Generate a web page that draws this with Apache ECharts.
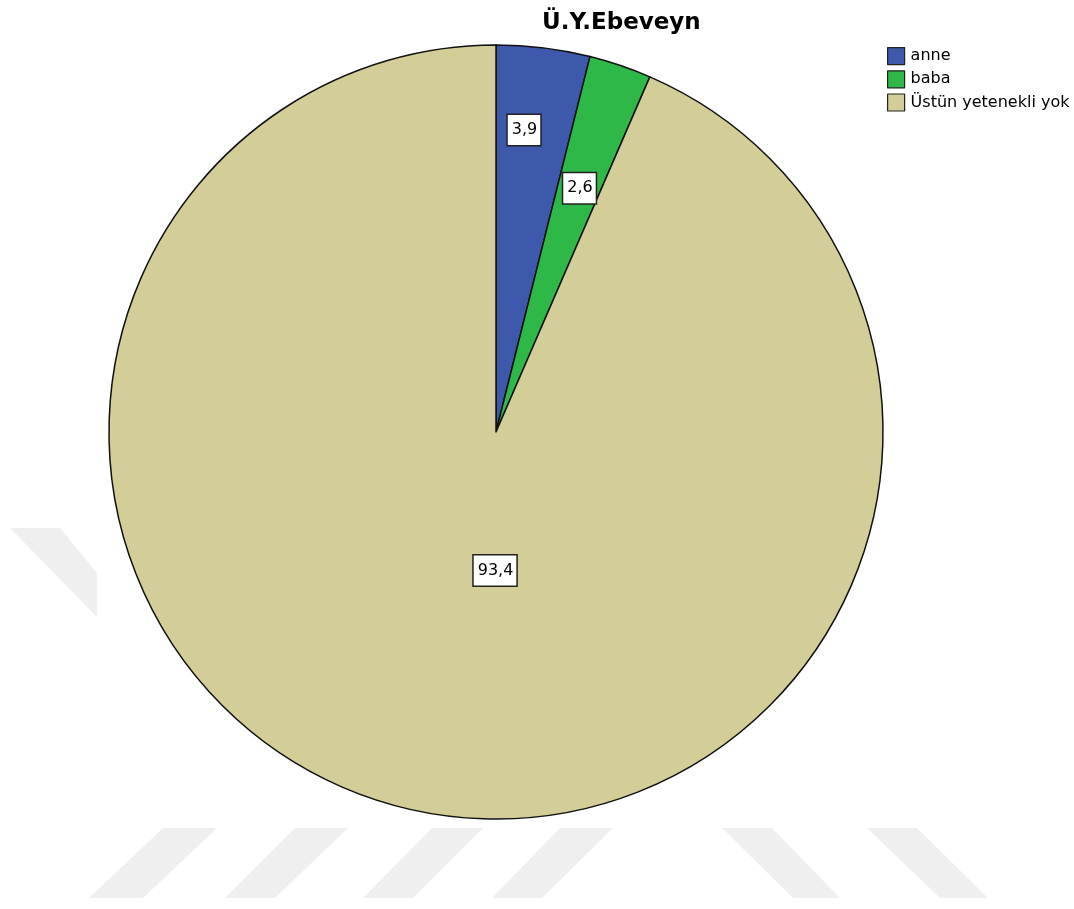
<!DOCTYPE html>
<html>
<head>
<meta charset="utf-8">
<script src="https://cdn.jsdelivr.net/npm/echarts@6/dist/echarts.min.js"></script>
<style>
html,body{margin:0;padding:0;background:#fff;}
#main{width:1074px;height:909px;}
</style>
</head>
<body>
<div id="main"></div>
<script>
// ---- data ----
var titleText = 'Ü.Y.Ebeveyn';
var categories = ['anne', 'baba', 'Üstün yetenekli yok'];
var values = [3.9, 2.6, 93.4];

// ---- styling ----
var colors = ['#3E58AC', '#2EB848', '#D3CE97'];
var pieCenter = [496, 432];
var pieRadius = 387;
// label placement: [angle from 12 o'clock in degrees (clockwise), fraction of radius]
var labelPolar = [[5.3, 0.784], [18.9, 0.666], [180.4, 0.358]];
var FONT = 'DejaVu Sans';

// decorative watermark stripes (background, not data)
var watermark = [
  [[163,828],[217,828],[143,898],[89,898]],
  [[295,828],[348,828],[275,898],[225,898]],
  [[432,828],[483,828],[413,898],[363,898]],
  [[560,828],[613,828],[542,898],[492,898]],
  [[722,828],[772,828],[840,898],[793,898]],
  [[867,828],[917,828],[988,898],[940,898]],
  [[10,528],[60,528],[97,573],[97,617]]
];

var chart = echarts.init(document.getElementById('main'), null, {renderer: 'canvas'});

var seriesData = categories.map(function (c, i) {
  return { name: c, value: values[i], itemStyle: { color: colors[i] } };
});

var option = {
  animation: false,
  backgroundColor: '#ffffff',
  title: {
    text: titleText,
    left: 542,
    top: 12,
    padding: 0,
    textStyle: { fontFamily: FONT, fontWeight: 'bold', fontSize: 23, color: '#000' }
  },
  legend: {
    orient: 'vertical',
    left: 887,
    top: 47,
    padding: 0,
    itemWidth: 17,
    itemHeight: 17,
    itemGap: 5,
    icon: 'rect',
    selectedMode: false,
    itemStyle: { borderColor: '#222', borderWidth: 1.2 },
    textStyle: { fontFamily: FONT, fontSize: 16, color: '#000', lineHeight: 17, padding: [0,0,0,1] },
    data: categories
  },
  graphic: watermark.map(function (pts) {
    return {
      type: 'polygon',
      silent: true,
      z: 0,
      shape: { points: pts },
      style: { fill: '#efefef', stroke: null }
    };
  }),
  series: [{
    type: 'pie',
    center: pieCenter,
    radius: pieRadius,
    startAngle: 90,
    clockwise: true,
    z: 2,
    itemStyle: { borderColor: '#111', borderWidth: 1.5 },
    emphasis: { disabled: true },
    label: {
      show: true,
      position: 'inside',
      formatter: function (p) { return p.value.toFixed(1).replace('.', ','); },
      fontFamily: FONT,
      fontSize: 16,
      lineHeight: 18,
      color: '#000',
      backgroundColor: '#ffffff',
      borderColor: '#222',
      borderWidth: 1.5,
      padding: [6, 3, 6, 4]
    },
    labelLine: { show: false },
    labelLayout: function (params) {
      var lp = labelPolar[params.dataIndex];
      var a = lp[0] * Math.PI / 180;
      var r = lp[1] * pieRadius;
      return {
        x: pieCenter[0] + r * Math.sin(a),
        y: pieCenter[1] - r * Math.cos(a),
        align: 'center',
        verticalAlign: 'middle'
      };
    },
    data: seriesData
  }]
};

chart.setOption(option);
</script>
</body>
</html>
